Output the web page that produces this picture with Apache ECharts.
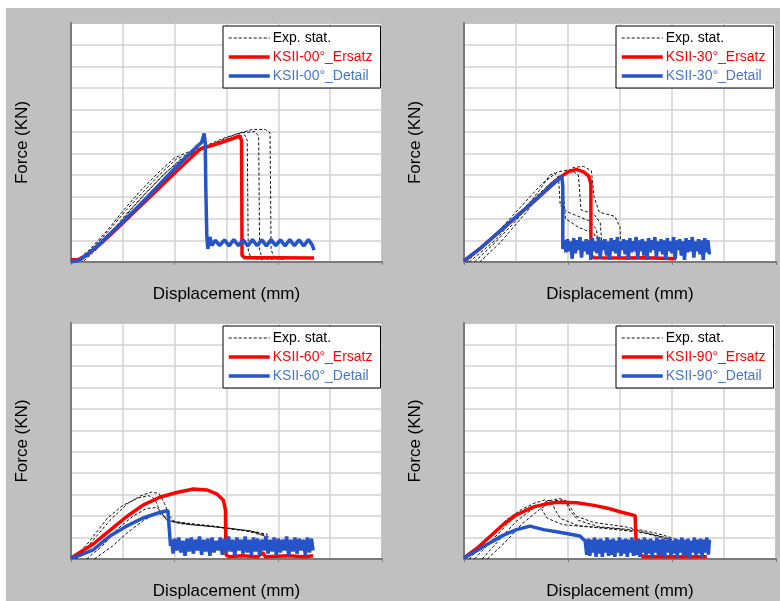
<!DOCTYPE html>
<html>
<head>
<meta charset="utf-8">
<script src="https://cdn.jsdelivr.net/npm/echarts@6/dist/echarts.min.js"></script>
<style>
  html, body { margin: 0; padding: 0; background: #fff; }
  #main { width: 780px; height: 601px; }
</style>
</head>
<body>
<div id="main"></div>
<script>
// x in grid units (0..6), y in grid units (0..11)
var angles = ['00', '30', '60', '90'];

// ---- KSII-00° ----
var exp00a = [[0.12,0.05],[0.4,0.6],[0.75,1.5],[1.07,2.4],[1.4,3.25],[1.72,4.05],[2.04,4.75],[2.36,5.05],[2.6,5.3],[3.0,5.6],[3.22,5.78],[3.27,5.6],[3.29,0.6],[3.33,0.2],[3.5,0.15]];
var exp00b = [[0.2,0.05],[0.45,0.55],[0.8,1.45],[1.12,2.35],[1.45,3.2],[1.78,4.0],[2.1,4.7],[2.4,5.05],[2.7,5.35],[3.1,5.7],[3.35,5.85],[3.4,5.6],[3.42,0.5],[3.48,0.15],[3.7,0.12]];
var exp00c = [[0.1,0.05],[0.35,0.55],[0.7,1.45],[1.02,2.4],[1.35,3.3],[1.68,4.1],[2.0,4.8],[2.3,5.1],[2.6,5.35],[3.0,5.75],[3.3,5.95],[3.55,6.0],[3.62,5.8],[3.64,0.5],[3.7,0.15],[3.9,0.12]];
var exp00d = [[0.25,0.05],[0.5,0.6],[0.85,1.5],[1.15,2.4],[1.5,3.3],[1.82,4.1],[2.15,4.75],[2.45,5.1],[2.8,5.5],[3.2,5.9],[3.5,6.1],[3.75,6.1],[3.84,5.95],[3.86,0.6],[3.92,0.15],[4.1,0.12]];
var red00 = [[0,0.1],[0.15,0.12],[0.3,0.3],[0.6,0.9],[1.0,1.8],[1.5,2.95],[2.0,4.1],[2.49,5.2],[2.9,5.5],[3.26,5.8],[3.29,5.6],[3.3,0.3],[3.35,0.2],[4.0,0.2],[4.69,0.18]];
var blue00 = [[0,0],[0.15,0.08],[0.35,0.4],[0.6,0.95],[1.0,1.85],[1.5,3.05],[2.0,4.3],[2.46,5.38],[2.52,5.5],[2.57,5.92],[2.59,5.5],[2.6,3.5],[2.62,1.2],[2.64,0.6],[2.68,1.15],[2.72,0.75],
  [2.78,1.0],[2.87,0.76],[2.96,1.02],[3.05,0.74],[3.14,1.03],[3.23,0.75],[3.32,1.02],[3.41,0.74],[3.5,1.03],[3.59,0.75],[3.68,1.02],[3.77,0.74],[3.86,1.03],[3.95,0.75],
  [4.04,1.02],[4.13,0.74],[4.22,1.03],[4.31,0.75],[4.4,1.02],[4.49,0.74],[4.58,1.03],[4.65,0.8],[4.69,0.55]];

// ---- KSII-30° ----
var exp30a = [[0.2,0],[0.6,0.9],[1.0,1.9],[1.45,3.3],[1.65,4.0],[1.75,4.1],[1.82,3.8],[1.85,2.6],[2.0,2.3],[2.4,1.9],[2.55,1.5],[2.58,0.5]];
var exp30b = [[0.3,0],[0.7,0.9],[1.2,2.3],[1.6,3.5],[1.85,4.0],[1.9,3.6],[1.95,2.0],[2.2,1.6],[2.5,1.3],[2.6,0.9]];
var exp30c = [[0.05,0],[0.5,1.0],[1.0,2.3],[1.5,3.6],[1.8,4.15],[2.05,4.25],[2.2,4.0],[2.25,2.4],[2.5,2.2],[2.62,1.8],[2.65,0.9]];
var exp30d = [[0.1,0],[0.6,1.0],[1.2,2.6],[1.7,3.7],[2.1,4.35],[2.3,4.4],[2.45,4.2],[2.5,3.0],[2.6,2.3],[2.9,2.1],[3.0,1.6],[3.02,0.5]];
var red30 = [[0,0.05],[0.3,0.6],[0.8,1.65],[1.3,2.7],[1.88,3.95],[2.0,4.15],[2.16,4.26],[2.3,4.15],[2.4,3.95],[2.44,3.6],[2.44,0.3],[2.5,0.2],[3.0,0.18],[3.5,0.2],[4.08,0.15]];
var blue30 = [[0,0.05],[0.3,0.6],[0.8,1.65],[1.3,2.7],[1.88,3.95],[1.9,3.5],[1.9,0.6],
  [1.93,1.0],[1.96,0.45],[1.99,1.05],[2.02,0.5],[2.05,0.95],[2.08,0.15],[2.11,1.1],[2.14,0.4],[2.17,1.0],[2.2,0.55],[2.23,1.15],[2.26,0.2],[2.29,0.95],[2.32,0.5],[2.35,1.05],
  [2.38,0.35],[2.41,1.0],[2.44,0.1],[2.47,1.1],[2.5,0.5],[2.53,0.95],[2.56,0.4],[2.59,1.15],[2.62,0.15],[2.65,1.0],[2.68,0.55],[2.71,1.05],[2.74,0.3],[2.77,0.95],[2.8,0.1],
  [2.83,1.1],[2.86,0.5],[2.89,1.0],[2.92,0.4],[2.95,1.15],[2.98,0.2],[3.01,0.95],[3.04,0.55],[3.07,1.05],[3.1,0.35],[3.13,1.0],[3.16,0.1],[3.19,1.1],[3.22,0.45],[3.25,0.95],
  [3.28,0.5],[3.31,1.15],[3.34,0.15],[3.37,1.0],[3.4,0.5],[3.43,1.05],[3.46,0.3],[3.49,0.95],[3.52,0.1],[3.55,1.1],[3.58,0.45],[3.61,1.0],[3.64,0.55],[3.67,1.15],[3.7,0.2],
  [3.73,0.95],[3.76,0.5],[3.79,1.05],[3.82,0.35],[3.85,1.0],[3.88,0.1],[3.91,1.1],[3.94,0.5],[3.97,0.95],[4.0,0.4],[4.03,1.15],[4.06,0.15],[4.09,1.0],[4.12,0.55],[4.15,1.05],
  [4.18,0.3],[4.21,0.95],[4.24,0.1],[4.27,1.1],[4.3,0.45],[4.33,1.0],[4.36,0.5],[4.39,1.15],[4.42,0.2],[4.45,0.95],[4.48,0.5],[4.51,1.05],[4.54,0.35],[4.57,1.0],[4.6,0.1],
  [4.63,1.1],[4.66,0.45],[4.69,1.0],[4.72,0.35]];

// ---- KSII-60° ----
var exp60a = [[0.1,0],[0.4,0.8],[0.75,1.8],[1.1,2.6],[1.35,2.95],[1.55,3.12],[1.7,3.05],[1.8,2.6],[1.9,2.0],[2.0,1.75],[2.6,1.55],[3.1,1.4],[3.6,1.25],[3.85,1.0]];
var exp60b = [[0.05,0],[0.35,0.8],[0.7,1.9],[1.0,2.5],[1.3,2.85],[1.5,2.95],[1.62,2.8],[1.7,2.3],[1.85,1.8],[2.3,1.6],[3.0,1.45],[3.5,1.3],[3.75,1.05]];
var exp60c = [[0.3,0],[0.6,0.6],[0.9,1.4],[1.2,2.0],[1.45,2.35],[1.65,2.4],[1.75,2.2],[1.82,1.9],[2.1,1.65],[2.8,1.5],[3.4,1.3],[3.7,1.1]];
var exp60d = [[0.45,0],[0.8,0.6],[1.1,1.25],[1.4,1.8],[1.6,2.05],[1.75,2.1],[1.85,1.85],[2.0,1.7],[2.7,1.55],[3.3,1.35],[3.8,1.15]];
var red60 = [[0,0.05],[0.2,0.35],[0.43,0.7],[0.75,1.33],[1.07,1.97],[1.39,2.51],[1.71,2.88],[2.04,3.1],[2.36,3.26],[2.62,3.22],[2.81,3.04],[2.94,2.74],[2.98,2.28],[2.99,0.2],
  [3.05,0.1],[3.3,0.15],[3.6,0.1],[3.7,0.3],[3.75,0.1],[4.2,0.15],[4.5,0.1],[4.67,0.15]];
var blue60 = [[0,0.05],[0.2,0.2],[0.43,0.43],[0.75,1.07],[1.07,1.53],[1.39,1.91],[1.71,2.17],[1.87,2.26],[1.9,2.2],[1.92,0.61],
  [1.94,0.9],[1.97,0.25],[2.0,0.95],[2.04,0.4],[2.08,1.0],[2.12,0.3],[2.16,0.85],[2.2,0.15],[2.24,0.95],[2.28,0.35],[2.32,1.0],[2.36,0.25],[2.4,0.9],[2.44,0.4],[2.48,1.05],
  [2.52,0.2],[2.56,0.9],[2.6,0.35],[2.64,0.95],[2.68,0.15],[2.72,1.0],[2.76,0.3],[2.8,0.85],[2.84,0.4],[2.88,1.0],[2.92,0.2],[2.96,0.95],[3.0,0.3],[3.04,1.05],[3.08,0.35],
  [3.12,0.9],[3.16,0.15],[3.2,1.0],[3.24,0.4],[3.28,0.9],[3.32,0.25],[3.36,1.05],[3.4,0.3],[3.44,0.9],[3.48,0.2],[3.52,1.0],[3.56,0.35],[3.6,0.95],[3.64,0.15],[3.68,0.9],
  [3.72,0.4],[3.76,1.05],[3.8,0.25],[3.84,0.9],[3.88,0.35],[3.92,1.0],[3.96,0.2],[4.0,0.95],[4.04,0.3],[4.08,0.9],[4.12,0.4],[4.16,1.05],[4.2,0.15],[4.24,0.9],[4.28,0.35],
  [4.32,1.0],[4.36,0.25],[4.4,0.95],[4.44,0.4],[4.48,0.9],[4.52,0.2],[4.56,1.0],[4.6,0.3],[4.64,0.95],[4.67,0.4]];

// ---- KSII-90° ----
var exp90a = [[0.1,0],[0.5,1.0],[0.8,1.8],[1.1,2.3],[1.35,2.6],[1.55,2.75],[1.68,2.7],[1.75,2.3],[1.85,1.9],[2.2,1.55],[3.0,1.4],[3.6,1.15],[3.95,0.92]];
var exp90b = [[0.35,0],[0.7,0.95],[1.0,1.75],[1.3,2.3],[1.6,2.7],[1.85,2.82],[1.95,2.7],[2.05,2.2],[2.2,1.8],[2.6,1.5],[3.3,1.35],[3.8,1.05],[4.0,0.9]];
var exp90c = [[0.2,0],[0.55,0.9],[0.9,1.8],[1.2,2.35],[1.42,2.55],[1.5,2.3],[1.6,1.9],[1.9,1.6],[2.6,1.45],[3.4,1.25],[3.8,1.0]];
var exp90d = [[0.45,0],[0.8,0.8],[1.1,1.6],[1.45,2.3],[1.72,2.72],[1.95,2.75],[2.05,2.4],[2.15,2.0],[2.5,1.7],[3.1,1.5],[3.7,1.2],[4.05,0.95]];
var red90 = [[0,0.05],[0.25,0.5],[0.5,1.05],[0.75,1.6],[1.0,2.05],[1.33,2.42],[1.6,2.58],[1.78,2.64],[2.17,2.62],[2.5,2.5],[2.74,2.38],[3.0,2.2],[3.29,2.02],[3.31,0.8],
  [3.35,0.3],[3.45,0.1],[4.0,0.1],[4.67,0.1]];
var blue90 = [[0,0.05],[0.25,0.4],[0.5,0.76],[0.75,1.1],[1.01,1.37],[1.27,1.53],[1.53,1.37],[1.75,1.28],[1.97,1.19],[2.23,1.07],[2.33,0.84],
  [2.36,0.2],[2.39,0.95],[2.42,0.15],[2.45,0.9],[2.48,0.3],[2.51,1.0],[2.54,0.1],[2.57,0.9],[2.6,0.25],[2.63,0.95],[2.66,0.1],[2.69,0.85],[2.72,0.3],[2.75,1.0],[2.78,0.15],
  [2.81,0.9],[2.84,0.2],[2.87,0.95],[2.9,0.1],[2.93,0.85],[2.96,0.3],[2.99,1.0],[3.02,0.15],[3.05,0.9],[3.08,0.25],[3.11,0.95],[3.14,0.1],[3.17,0.9],[3.2,0.3],[3.23,1.0],
  [3.26,0.15],[3.29,0.85],[3.32,0.2],[3.35,0.95],[3.38,0.1],[3.41,0.9],[3.44,0.3],[3.47,1.0],[3.5,0.15],[3.53,0.9],[3.56,0.25],[3.59,0.95],[3.62,0.1],[3.65,0.85],[3.68,0.3],
  [3.71,1.0],[3.74,0.15],[3.77,0.9],[3.8,0.2],[3.83,0.95],[3.86,0.1],[3.89,0.9],[3.92,0.3],[3.95,1.0],[3.98,0.15],[4.01,0.85],[4.04,0.25],[4.07,0.95],[4.1,0.1],[4.13,0.9],
  [4.16,0.3],[4.19,1.0],[4.22,0.15],[4.25,0.9],[4.28,0.2],[4.31,0.95],[4.34,0.1],[4.37,0.85],[4.4,0.3],[4.43,1.0],[4.46,0.15],[4.49,0.9],[4.52,0.25],[4.55,0.95],[4.58,0.1],
  [4.61,0.9],[4.64,0.3],[4.67,1.0],[4.7,0.2],[4.72,0.9]];

var expSets = [[exp00a, exp00b, exp00c, exp00d], [exp30a, exp30b, exp30c, exp30d], [exp60a, exp60b, exp60c, exp60d], [exp90a, exp90b, exp90c, exp90d]];
var redSets = [red00, red30, red60, red90];
var blueSets = [blue00, blue30, blue60, blue90];

var FONT = 'Liberation Sans, Arial, sans-serif';
var RED = '#ff0000', BLUE = '#2553c8', BLUE_TXT = '#4474d8', EXP = '#111';
var boxes = [
  { left: 71, top: 23, width: 311, height: 239 },
  { left: 464, top: 23, width: 312, height: 239 },
  { left: 71, top: 323, width: 311, height: 240 },
  { left: 464, top: 323, width: 312, height: 240 }
];

var grids = [], xAxes = [], yAxes = [], legends = [], series = [];
boxes.forEach(function (b, i) {
  grids.push({
    left: b.left, top: b.top, width: b.width, height: b.height,
    show: true, backgroundColor: '#fff', borderColor: '#7a7a7a', borderWidth: 1.5
  });
  xAxes.push({
    gridIndex: i, type: 'value', min: 0, max: 6, interval: 2,
    name: 'Displacement (mm)', nameLocation: 'middle', nameGap: 24,
    nameTextStyle: { fontFamily: FONT, fontSize: 17, color: '#000' },
    axisLine: { lineStyle: { color: '#7a7a7a', width: 2 } },
    axisTick: { show: true, length: 3, lineStyle: { color: '#7a7a7a' } },
    axisLabel: { show: false },
    splitLine: { show: true, lineStyle: { color: '#d2d2d2', width: 1.5 } },
    minorSplitLine: { show: true, lineStyle: { color: '#d2d2d2', width: 1.5 } },
    minorTick: { show: false, splitNumber: 2 }
  });
  yAxes.push({
    gridIndex: i, type: 'value', min: 0, max: 11, interval: 1,
    name: 'Force (KN)', nameLocation: 'middle', nameGap: 40, nameRotate: 90,
    nameTextStyle: { fontFamily: FONT, fontSize: 17, color: '#000' },
    axisLine: { lineStyle: { color: '#7a7a7a', width: 2 } },
    axisTick: { show: false },
    axisLabel: { show: false },
    splitLine: { show: true, lineStyle: { color: '#d2d2d2', width: 1.5 } }
  });
  var a = angles[i];
  var rName = 'KSII-' + a + '°_Ersatz', bName = 'KSII-' + a + '°_Detail';
  legends.push({
    left: b.left + 152, top: b.top + 3, orient: 'vertical',
    backgroundColor: '#fff', borderColor: '#000', borderWidth: 1,
    padding: [5, 8, 5, 4], itemGap: 5, itemWidth: 41, itemHeight: 14,
    itemStyle: { opacity: 0 },
    lineStyle: { width: 'inherit' },
    textStyle: { fontFamily: FONT, fontSize: 14, padding: [0, 0, 0, -2] },
    data: [
      { name: 'Exp. stat.', textStyle: { color: '#000' } },
      { name: rName, textStyle: { color: RED } },
      { name: bName, textStyle: { color: BLUE_TXT } }
    ]
  });
  expSets[i].forEach(function (d) {
    series.push({
      name: 'Exp. stat.', type: 'line', xAxisIndex: i, yAxisIndex: i, data: d,
      symbol: 'none', itemStyle: { color: EXP },
      lineStyle: { color: EXP, width: 1, type: [3, 2] }
    });
  });
  series.push({
    name: rName, type: 'line', xAxisIndex: i, yAxisIndex: i, data: redSets[i],
    symbol: 'none', itemStyle: { color: RED }, lineStyle: { color: RED, width: 3.5 }
  });
  series.push({
    name: bName, type: 'line', xAxisIndex: i, yAxisIndex: i, data: blueSets[i],
    symbol: 'none', itemStyle: { color: BLUE }, lineStyle: { color: BLUE, width: 3.5 }
  });
});

var chart = echarts.init(document.getElementById('main'));
chart.setOption({
  animation: false,
  graphic: [{
    type: 'rect', z: -10, silent: true,
    shape: { x: 6, y: 8, width: 774, height: 593 },
    style: { fill: '#c0c0c0' }
  }],
  grid: grids,
  xAxis: xAxes,
  yAxis: yAxes,
  legend: legends,
  series: series
});
</script>
</body>
</html>
